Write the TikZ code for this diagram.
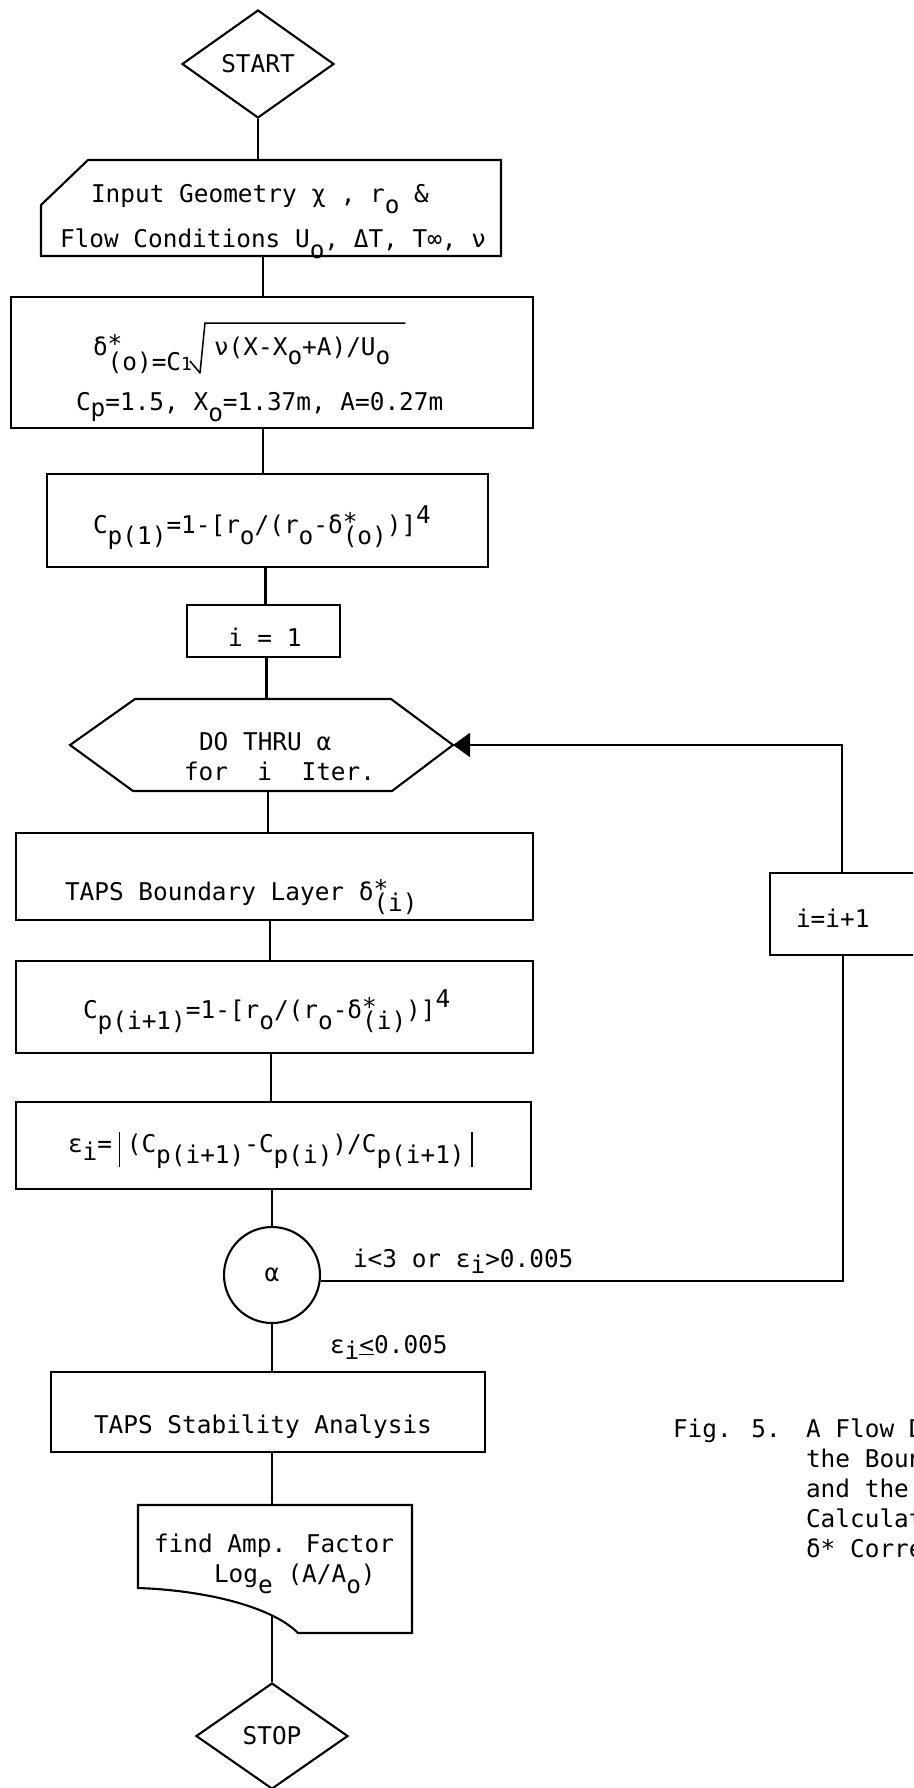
\documentclass[tikz,border=0pt]{standalone}
\usepackage{fontspec}
\usepackage{tikz}
\usetikzlibrary{calc,arrows.meta,shapes.geometric}

\newfontfamily\twfont{DejaVu Sans Mono}
\newcommand{\tw}{\twfont\fontsize{24.4}{30}\selectfont}
\newcommand{\dn}[2][11pt]{\raisebox{-#1}{#2}}
\newcommand{\up}[2][10pt]{\raisebox{#1}{#2}}
\newcommand{\tbar}{\makebox[14.7pt]{\rule[-15pt]{1.6pt}{35pt}}}

\begin{document}
\begin{tikzpicture}[x=1pt,y=1pt,yscale=-1,xscale=1,line width=2.1pt,
    box/.style={draw,rectangle,inner sep=0pt},
    blank/.style={rectangle,inner sep=0pt,outer sep=0pt},
    term/.style={draw,diamond,inner sep=0pt,font=\tw},
    txt/.style={inner sep=0pt,anchor=base west,font=\tw}]
    \path[use as bounding box,clip] (0,0) rectangle (913,1788);

    %Shape: Diamond
    \node (start) [term,minimum width=152,minimum height=108] at (258,64) {START};

    %Shape: Card
    \node (input) [blank,minimum width=460,minimum height=96] at (271,208) {};
    \draw ($(input.north west)+(47,0)$) -- (input.north east) -- (input.south east) -- (input.south west) -- ($(input.north west)+(0,45)$) -- cycle;

    %Shape: Rectangle
    \node (b2) [box,minimum width=522,minimum height=131] at (272,362.5) {};
    %Shape: Rectangle
    \node (b3) [box,minimum width=441,minimum height=93] at (267.5,520.5) {};
    %Shape: Rectangle
    \node (i1) [box,minimum width=153,minimum height=52] at (263.5,631) {};

    %Shape: Hexagon
    \node (dothru) [blank,minimum width=383,minimum height=92] at (261.5,745) {};
    \draw (dothru.west) -- ($(dothru.north west)+(65,0)$) -- ($(dothru.north east)+(-62,0)$) -- (dothru.east) -- ($(dothru.south east)+(-61,0)$) -- ($(dothru.south west)+(63,0)$) -- cycle;

    %Shape: Rectangle
    \node (tbl) [box,minimum width=517,minimum height=87] at (274.5,876.5) {};
    %Shape: Rectangle
    \node (cpi) [box,minimum width=517,minimum height=92] at (274.5,1007) {};
    %Shape: Rectangle
    \node (eps) [box,minimum width=515,minimum height=87] at (273.5,1145.5) {};
    %Shape: Rectangle
    \node (inc) [box,anchor=north west,minimum width=200,minimum height=82] at (769,872) {};

    %Shape: Circle
    \node (alpha) [draw,circle,inner sep=0pt,minimum size=96,font=\tw] at (272,1275) {α};

    %Shape: Rectangle
    \node (stab) [box,minimum width=434,minimum height=80] at (268,1412) {};

    %Shape: Document
    \node (find) [blank,minimum width=274,minimum height=128] at (275,1569) {};
    \draw (find.north west) -- (find.north east) -- (find.south east) -- ($(find.south west)+(160,0)$) .. controls ($(find.south west)+(132,-28)$) and ($(find.south west)+(62,-43)$) .. ($(find.south west)+(0,-45)$) -- cycle;

    %Shape: Diamond
    \node (stop) [term,minimum width=152,minimum height=106] at (272,1736) {STOP};

    %Straight Lines
    \draw (start.south) -- (start.south |- input.north);
    \draw ($(input.south)+(-8,0)$) -- ($(b2.north)+(-9,0)$);
    \draw ($(b2.south)+(-9,0)$) -- ($(b3.north)+(-4.5,0)$);
    \draw ($(b3.south)+(-2,0)$) -- ($(i1.north)+(2,0)$);
    \draw ($(i1.south)+(3,0)$) -- ($(dothru.north)+(5,0)$);
    \draw ($(dothru.south)+(6.5,0)$) -- ($(tbl.north)+(-6.5,0)$);
    \draw ($(tbl.south)+(-4.5,0)$) -- ($(cpi.north)+(-4.5,0)$);
    \draw ($(cpi.south)+(-3.5,0)$) -- ($(eps.north)+(-2.5,0)$);
    \draw ($(eps.south)+(-1.5,0)$) -- (alpha.north);
    \draw (alpha.south) -- ($(stab.north)+(4,0)$);
    \draw ($(stab.south)+(4,0)$) -- ($(find.north)+(-3,0)$);
    \draw ($(find.south west)+(134,-18)$) -- (stop.north);
    %Straight Lines (loop back)
    \draw (alpha.-7) -| ($(inc.south west)+(74,0)$);
    \draw [-{Triangle[length=17pt,width=24pt]}] ($(inc.north west)+(73,0)$) |- (dothru.east);

    % Text Node
    \node (inputa) [txt] at (90,202) {Input Geometry χ , r\dn{o} \&};
    % Text Node
    \node (inputb) [txt] at (59,247) {Flow Conditions U\dn{o}, ΔT, T∞, ν};
    % Text Node
    \node (b2a) [txt] at (92,355) {δ\rlap{\up[3pt]{*}}\dn[15pt]{(o)=C{\fontsize{18}{18}\selectfont 1}}};
    % Text Node
    \node (b2c) [txt] at (213,355) {ν(X-X\dn[9pt]{o}+A)/U\dn[9pt]{o}};
    %Shape: Radical
    \draw [line width=1.5pt,line join=round] ($(b2c.base west)+(-23,6)$) -- ($(b2c.base west)+(-13,18)$) -- ($(b2c.base west)+(-8,-32)$) -- ($(b2c.base east)+(14,-32)$);
    % Text Node
    \node (b2b) [txt] at (75,410) {C\dn[6pt]{p}=1.5, X\dn{o}=1.37m, A=0.27m};
    % Text Node
    \node (b3a) [txt] at (92,533) {C\dn{p(1)}=1-[r\dn{o}/(r\dn{o}-δ\rlap{\up[3pt]{*}}\dn{(o)})]\up{4}};
    % Text Node
    \node (i1a) [txt] at (227,646) {i = 1};
    % Text Node
    \node (dothrua) [txt] at (198,750) {DO THRU α};
    % Text Node
    \node (dothrub) [txt] at (183,780) {for~~i~~Iter.};
    % Text Node
    \node (tbla) [txt] at (64,900) {TAPS Boundary Layer δ\rlap{\up[3pt]{*}}\dn{(i)}};
    % Text Node
    \node (inca) [txt] at (795,927) {i=i+1};
    % Text Node
    \node (cpia) [txt] at (82,1018) {C\dn{p(i+1)}=1-[r\dn{o}/(r\dn{o}-δ\rlap{\up[3pt]{*}}\dn{(i)})]\up[11pt]{4}};
    % Text Node
    \node (epsa) [txt] at (67,1152) {ε\dn[8pt]{i}=\tbar(C\dn{p(i+1)}-C\dn{p(i)})/C\dn{p(i+1)}\tbar};
    % Text Node
    \node (yeslbl) [txt] at (352,1267) {i<3 or ε\dn[6pt]{i}>0.005};
    % Text Node
    \node (nolbl) [txt] at (329,1353) {ε\dn[6pt]{i}\underline{<}0.005};
    % Text Node
    \node (staba) [txt] at (93,1433) {TAPS Stability Analysis};
    % Text Node
    \node (finda) [txt] at (153,1552) {find Amp. Factor};
    % Text Node
    \node (findb) [txt] at (213,1582) {Log\dn{e} (A/A\dn{o})};

    % Text Node
    \node (fig) [txt] at (672,1437) {Fig. 5.};
    % Text Node
    \node (cap1) [txt] at (805,1437) {A Flow D};
    \node (cap2) [txt] at (805,1467) {the Boun};
    \node (cap3) [txt] at (805,1497) {and the};
    \node (cap4) [txt] at (805,1527) {Calculat};
    \node (cap5) [txt] at (805,1557) {δ* Corre};

\end{tikzpicture}
\end{document}
